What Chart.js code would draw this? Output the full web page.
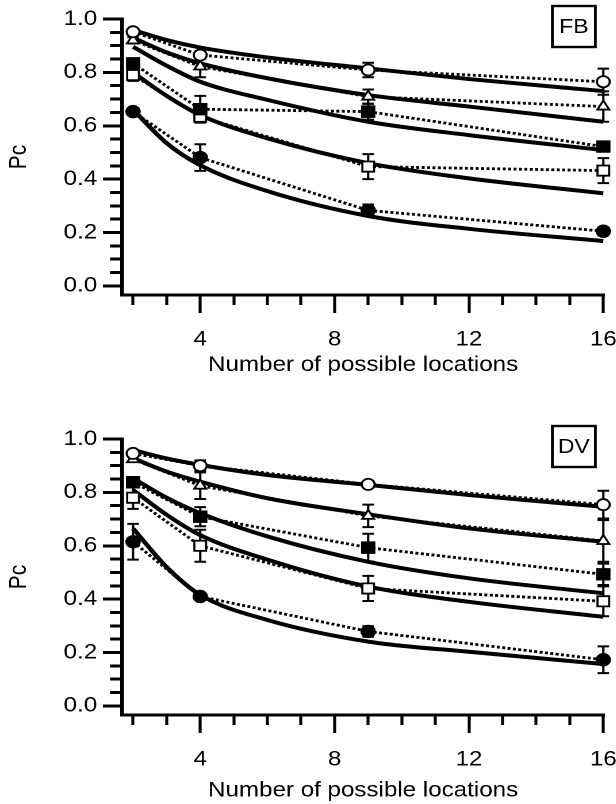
<!DOCTYPE html>
<html>
<head>
<meta charset="utf-8">
<script src="https://cdn.jsdelivr.net/npm/chart.js@4.4.1/dist/chart.umd.min.js"></script>
<style>
  html, body { margin: 0; padding: 0; background: #fff; overflow: hidden; }
  .panel { position: absolute; left: 0; width: 536px; transform-origin: 0 0; transform: scaleX(1.15); }
  #fbWrap { top: 0; height: 402px; }
  #dvWrap { top: 420px; height: 384px; }
</style>
</head>
<body>
<div class="panel" id="fbWrap"><canvas id="fb" width="536" height="402"></canvas></div>
<div class="panel" id="dvWrap"><canvas id="dv" width="536" height="384"></canvas></div>
<script>
const locations = [2, 4, 9, 16];
const fitLocations = [2, 3, 4, 6, 9, 12, 16];
const xTickValues = [2, 3, 4, 5, 6, 7, 8, 9, 10, 11, 12, 13, 14, 15, 16];
const xTickLabels = [4, 8, 12, 16];
const yTickLabels = [0, 0.2, 0.4, 0.6, 0.8, 1.0];

// FB
const fbOpenCircle = [0.952, 0.865, 0.809, 0.765];
const fbOpenCircleErr = [0.01, 0.014, 0.027, 0.049];
const fbOpenCircleFit = [0.959, 0.921, 0.893, 0.856, 0.815, 0.775, 0.73];
const fbTriangle = [0.92, 0.822, 0.709, 0.672];
const fbTriangleErr = [0.012, 0.04, 0.027, 0.057];
const fbTriangleFit = [0.93, 0.875, 0.834, 0.778, 0.715, 0.672, 0.615];
const fbFilledSquare = [0.834, 0.662, 0.653, 0.522];
const fbFilledSquareErr = [0.01, 0.05, 0.03, 0.01];
const fbFilledSquareFit = [0.896, 0.825, 0.765, 0.697, 0.615, 0.565, 0.509];
const fbOpenSquare = [0.79, 0.634, 0.447, 0.432];
const fbOpenSquareErr = [0.022, 0.02, 0.047, 0.047];
const fbOpenSquareFit = [0.8, 0.712, 0.64, 0.553, 0.46, 0.403, 0.347];
const fbFilledCircle = [0.653, 0.481, 0.283, 0.205];
const fbFilledCircleErr = [0.008, 0.05, 0.022, 0.015];
const fbFilledCircleFit = [0.66, 0.535, 0.452, 0.355, 0.262, 0.214, 0.168];

// DV
const dvOpenCircle = [0.946, 0.9, 0.83, 0.754];
const dvOpenCircleErr = [0.008, 0.02, 0.008, 0.052];
const dvOpenCircleFit = [0.959, 0.927, 0.903, 0.865, 0.828, 0.79, 0.746];
const dvTriangle = [0.924, 0.825, 0.712, 0.618];
const dvTriangleErr = [0.01, 0.05, 0.042, 0.078];
const dvTriangleFit = [0.928, 0.878, 0.84, 0.778, 0.718, 0.665, 0.615];
const dvFilledSquare = [0.838, 0.709, 0.593, 0.493];
const dvFilledSquareErr = [0.006, 0.036, 0.052, 0.04];
const dvFilledSquareFit = [0.853, 0.78, 0.722, 0.635, 0.54, 0.478, 0.422];
const dvOpenSquare = [0.78, 0.6, 0.44, 0.392];
const dvOpenSquareErr = [0.042, 0.06, 0.047, 0.056];
const dvOpenSquareFit = [0.809, 0.716, 0.64, 0.548, 0.447, 0.39, 0.334];
const dvFilledCircle = [0.615, 0.41, 0.279, 0.173];
const dvFilledCircleErr = [0.067, 0.01, 0.02, 0.05];
const dvFilledCircleFit = [0.665, 0.52, 0.416, 0.322, 0.241, 0.203, 0.157];

const markers = [
  { style: 'circle', radius: 5.6, fill: '#fff' },
  { style: 'triangle', radius: 6, fill: '#fff' },
  { style: 'rect', radius: 7.5, fill: '#000' },
  { style: 'rect', radius: 7.2, fill: '#fff' },
  { style: 'circle', radius: 5.8, fill: '#000' }
];

Chart.defaults.font.family = '"Liberation Sans", Arial, Helvetica, sans-serif';
Chart.defaults.font.size = 21;
Chart.defaults.color = '#000';

// vertical error bars with caps, drawn under the markers
const errorBars = {
  id: 'errorBars',
  beforeDatasetsDraw(chart) {
    const ctx = chart.ctx, y = chart.scales.y;
    ctx.save();
    ctx.strokeStyle = '#000';
    ctx.lineWidth = 2;
    chart.data.datasets.forEach((ds, i) => {
      if (!ds.errors) return;
      chart.getDatasetMeta(i).data.forEach((pt, j) => {
        const v = ds.data[j].y, e = ds.errors[j];
        const top = y.getPixelForValue(v + e), bot = y.getPixelForValue(v - e);
        ctx.beginPath();
        ctx.moveTo(pt.x, top); ctx.lineTo(pt.x, bot);
        ctx.moveTo(pt.x - 5, top); ctx.lineTo(pt.x + 5, top);
        ctx.moveTo(pt.x - 5, bot); ctx.lineTo(pt.x + 5, bot);
        ctx.stroke();
      });
    });
    ctx.restore();
  }
};

// boxed subject label in the top right corner
const panelTag = {
  id: 'panelTag',
  afterDraw(chart, args, opts) {
    const ctx = chart.ctx, area = chart.chartArea;
    const w = 37.4, h = 41;
    const x = area.right - 7.8 - w, y = area.top - 13;
    ctx.save();
    ctx.lineWidth = 2.4;
    ctx.strokeStyle = '#000';
    ctx.strokeRect(x, y, w, h);
    ctx.font = '20px "Liberation Sans", Arial, sans-serif';
    ctx.fillStyle = '#000';
    ctx.textAlign = 'center';
    ctx.textBaseline = 'middle';
    ctx.fillText(opts.text, x + w / 2, y + h / 2 + 1);
    ctx.restore();
  }
};

function isYMajor(v) {
  return yTickLabels.some(t => Math.abs(t - v) < 1e-6);
}

function buildPanel(canvasId, tag, series, titlePad) {
  const canvas = document.getElementById(canvasId);
  const H = canvas.height;
  const datasets = [];
  series.forEach((s, i) => {
    const m = markers[i];
    datasets.push({
      data: locations.map((x, j) => ({ x: x, y: s.values[j] })),
      errors: s.errors,
      borderColor: '#000',
      borderWidth: 2.8,
      borderDash: [2.6, 2.1],
      pointStyle: m.style,
      pointRadius: m.radius,
      pointBackgroundColor: m.fill,
      pointBorderColor: '#000',
      pointBorderWidth: 1.8,
      order: 1,
      clip: false
    });
    datasets.push({
      data: fitLocations.map((x, j) => ({ x: x, y: s.fit[j] })),
      borderColor: '#000',
      borderWidth: 4,
      pointRadius: 0,
      cubicInterpolationMode: 'monotone',
      order: 2,
      clip: false
    });
  });

  const yTicks = [];
  for (let k = 0; k <= 20; k++) yTicks.push(Math.round(k * 5) / 100);

  return new Chart(canvas, {
    type: 'line',
    data: { datasets: datasets },
    plugins: [errorBars, panelTag],
    options: {
      responsive: false,
      animation: false,
      devicePixelRatio: 2,
      layout: { padding: { left: 0, top: 19, right: 10.5, bottom: 0 } },
      plugins: {
        legend: { display: false },
        tooltip: { enabled: false },
        panelTag: { text: tag }
      },
      scales: {
        x: {
          type: 'linear',
          min: 1.668,
          max: 16.03,
          afterBuildTicks: s => { s.ticks = xTickValues.map(v => ({ value: v })); },
          afterFit: s => { s.height = H - 295; s.paddingLeft = 0; s.paddingRight = 0; },
          ticks: {
            autoSkip: false,
            maxRotation: 0,
            padding: 14,
            callback: v => xTickLabels.includes(v) ? String(v) : ''
          },
          grid: {
            drawOnChartArea: false,
            tickLength: 18,
            tickWidth: 2.6,
            tickColor: '#000',
            tickBorderDash: c => xTickLabels.includes(c.tick.value) ? [] : [8.5, 40]
          },
          border: { display: true, color: '#000', width: 3 },
          title: {
            display: true,
            text: 'Number of possible locations',
            padding: { top: 0, bottom: titlePad }
          }
        },
        y: {
          min: -0.034,
          max: 1.0,
          afterBuildTicks: s => { s.ticks = yTicks.map(v => ({ value: v })); },
          afterFit: s => { s.width = 106; s.paddingTop = 0; s.paddingBottom = 0; },
          ticks: {
            autoSkip: false,
            padding: 5,
            callback: v => isYMajor(v) ? v.toFixed(1) : ''
          },
          grid: {
            drawOnChartArea: false,
            tickLength: 16.5,
            tickWidth: 3,
            tickColor: '#000',
            tickBorderDash: c => isYMajor(c.tick.value) ? [] : [0, 6.2, 8.7, 40]
          },
          border: { display: true, color: '#000', width: 3.3 },
          title: {
            display: true,
            text: 'Pc',
            padding: { top: 4, bottom: 0 }
          }
        }
      }
    }
  });
}

buildPanel('fb', 'FB', [
  { values: fbOpenCircle, errors: fbOpenCircleErr, fit: fbOpenCircleFit },
  { values: fbTriangle, errors: fbTriangleErr, fit: fbTriangleFit },
  { values: fbFilledSquare, errors: fbFilledSquareErr, fit: fbFilledSquareFit },
  { values: fbOpenSquare, errors: fbOpenSquareErr, fit: fbOpenSquareFit },
  { values: fbFilledCircle, errors: fbFilledCircleErr, fit: fbFilledCircleFit }
], 24);

buildPanel('dv', 'DV', [
  { values: dvOpenCircle, errors: dvOpenCircleErr, fit: dvOpenCircleFit },
  { values: dvTriangle, errors: dvTriangleErr, fit: dvTriangleFit },
  { values: dvFilledSquare, errors: dvFilledSquareErr, fit: dvFilledSquareFit },
  { values: dvOpenSquare, errors: dvOpenSquareErr, fit: dvOpenSquareFit },
  { values: dvFilledCircle, errors: dvFilledCircleErr, fit: dvFilledCircleFit }
], 0.6);
</script>
</body>
</html>
